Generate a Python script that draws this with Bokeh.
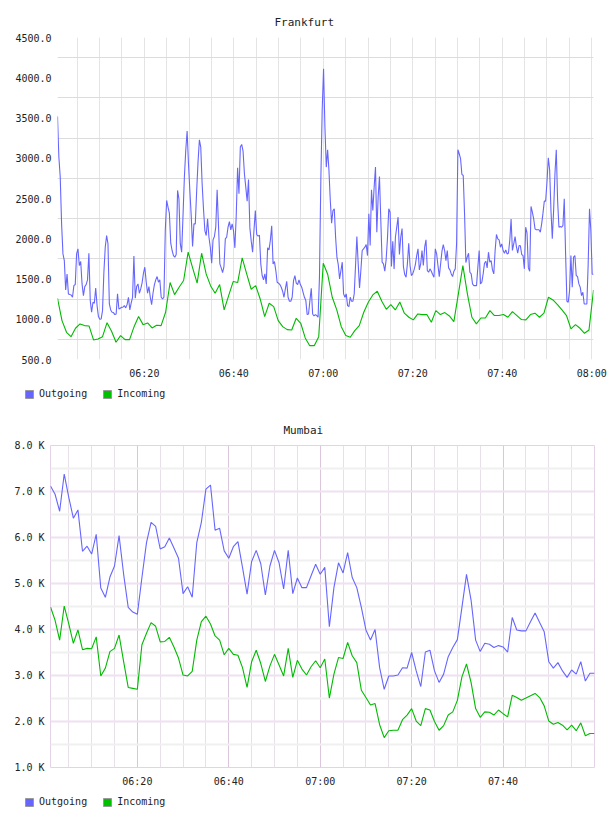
import numpy as np
from bokeh.plotting import figure
from bokeh.layouts import column, row
from bokeh.models import (Range1d, FixedTicker, Legend, LegendItem,
                          CustomJSTickFormatter, PrintfTickFormatter)
from bokeh.embed import file_html
from bokeh.resources import INLINE

DAY = "2015-06-01"

# ---------------- data ----------------
fra_title = "Frankfurt"
fra_start = "06:00:35"
fra_end = "08:00:24"
# outgoing samples: two runs of evenly spaced samples (times)
fra_out_runs = [("06:00:35", "07:00:40", 198), ("07:00:58", "08:00:24", 201)]
fra_outgoing = [
    3520, 3015, 2766, 2185, 1812, 1729, 1364, 1563, 1315, 1307,
    1302, 1273, 1418, 1431, 1812, 1874, 1667, 1717, 1439, 1294,
    1406, 1431, 1489, 1820, 1232, 1087, 1211, 1199, 1389, 1170,
    1033, 1000, 1004, 1107, 1584, 1895, 2040, 1936, 1190, 1116,
    1087, 1083, 1058, 1066, 1315, 1128, 1137, 1149, 1149, 1170,
    1141, 1182, 1273, 1116, 1199, 1273, 1787, 1261, 1406, 1439,
    1323, 1377, 1452, 1572, 1646, 1468, 1323, 1406, 1273, 1182,
    1323, 1427, 1489, 1530, 1460, 1489, 1273, 1252, 1273, 2102,
    2476, 2393, 2318, 1945, 1854, 1791, 1771, 1804, 2600, 2496,
    1936, 1833, 2289, 2766, 3097, 3338, 2932, 2600, 2289, 1903,
    2185, 2185, 2592, 2952, 3230, 3139, 2683, 2372, 2102, 2040,
    2248, 2019, 1895, 1696, 1986, 2028, 2144, 2608, 2164, 1688,
    1638, 1580, 1655, 1999, 2019, 2144, 2214, 2111, 2185, 2102,
    1887, 2285, 2882, 2558, 3139, 3172, 3089, 2807, 2641, 2467,
    2737, 2135, 1970, 1833, 2102, 2351, 2053, 2032, 2044, 1688,
    1543, 1489, 1563, 1439, 1887, 1862, 1978, 2160, 1688, 1717,
    1605, 1460, 1448, 1431, 1398, 1348, 1273, 1377, 1472, 1273,
    1223, 1223, 1273, 1481, 1543, 1448, 1431, 1489, 1431, 1398,
    1335, 1273, 1232, 1058, 1066, 1232, 1385, 1066, 1041, 1058,
    1046, 1025, 1522, 2724, 3595, 4113, 3388, 2890,
    3106, 2849, 2476, 2194, 2351, 2372, 2019, 1771, 1679, 1501,
    1605, 1709, 1315, 1273, 1315, 1170, 1157, 1273, 1223, 1223,
    1315, 1667, 2028, 1688, 1389, 1605, 1854, 1874, 1895, 1928,
    1791, 2310, 1916, 2608, 2351, 2641, 2890, 2082, 2517, 2774,
    2227, 1709, 1688, 1597, 1738, 1999, 2372, 2330, 1655, 1970,
    1626, 2019, 2144, 2268, 1804, 2019, 2127, 1655, 1555, 1522,
    1688, 1945, 1667, 1543, 1563, 1613, 1679, 1791, 1874, 1613,
    1688, 1854, 1667, 1895, 1986, 1605, 1584, 1626, 1597, 1555,
    1522, 1874, 1812, 1667, 1530, 1688, 1845, 1928, 1854, 1729,
    1854, 1638, 1613, 1563, 1530, 1597, 1626, 1936, 3106, 3056,
    2994, 2799, 2786, 2310, 1704, 1771, 1820, 1584, 1563, 1439,
    1418, 1418, 1418, 1646, 1854, 1439, 1460, 1563, 1696, 1721,
    1638, 1833, 1709, 1729, 1613, 1563, 1854, 2053, 1999, 1986,
    1895, 1936, 1854, 1820, 1862, 1812, 1820, 1978, 2244, 1854,
    1936, 2028, 1903, 1820, 1916, 1912, 1804, 1791, 1626, 2144,
    2069, 1638, 1597, 2401, 2330, 2248, 2123, 2111, 2111, 2111,
    2082, 2185, 2318, 2467, 2467, 2704, 3006, 2857, 2351, 1999,
    2351, 2807, 3106, 2476, 2144, 2152, 2144, 2164, 2496, 1820,
    1223, 1211, 1356, 1791, 1398, 1771, 1791, 1543, 1530, 1439,
    1398, 1294, 1335, 1190, 1190, 1190, 1688, 2372, 2102, 1563,
    1555,
]
fra_incoming = [
    1261, 983, 838, 784, 888, 942, 921, 917, 743, 755,
    784, 958, 850, 714, 797, 747, 747, 908, 1033, 933,
    954, 892, 925, 921, 1087, 1456, 1306, 1398, 1481, 1833,
    1638, 1448, 1820, 1563, 1414, 1323, 1431, 1116, 1294, 1468,
    1456, 1762, 1563, 1373, 1418, 1252, 1033, 1199, 1157, 983,
    908, 871, 867, 1012, 950, 768, 672, 672, 784, 1696,
    1555, 1273, 1116, 908, 797, 776, 859, 921, 1087, 1211,
    1302, 1348, 1223, 1124, 1182, 1116, 1215, 1075, 1025, 992,
    1066, 1058, 1058, 962, 1107, 1058, 1083, 1041, 971, 1315,
    1667, 1315, 1025, 942, 1016, 1016, 1107, 1046, 1046, 1058,
    1025, 1095, 1046, 996, 992, 1058, 1075, 1025, 1075, 1273,
    1240, 1182, 1116, 1046, 880, 933, 888, 826, 867, 1364,
]
fra_y_ticks = [500, 1000, 1500, 2000, 2500, 3000, 3500, 4000, 4500]
fra_x_tick_labels = ["06:20", "06:40", "07:00", "07:20", "07:40", "08:00"]

mum_title = "Mumbai"
mum_start = "06:01:00"
mum_end = "08:00:00"
mum_outgoing = [
    7120, 6940, 6570, 7380, 6870, 6420, 6600, 5700, 5810, 5640,
    6070, 4900, 4700, 5140, 5380, 6040, 5200, 4480, 4380, 4330,
    5130, 5890, 6330, 6240, 5750, 5800, 5990, 5770, 5550, 4780,
    4930, 4700, 5890, 6330, 7050, 7140, 6160, 6200, 5710, 5550,
    5800, 5910, 5350, 4770, 5480, 5720, 5430, 4750, 5380, 5720,
    5450, 4880, 5720, 4780, 5120, 4910, 4910, 5170, 5420, 5200,
    5350, 4060, 4910, 5450, 5230, 5670, 5130, 4910, 4480, 3990,
    3770, 4000, 3170, 2700, 2990, 2990, 3010, 3170, 3160, 3500,
    3100, 2760, 3510, 3550, 3100, 2850, 3030, 3410, 3610, 3780,
    4480, 5200, 4640, 3770, 3520, 3700, 3680, 3610, 3650, 3620,
    3510, 4260, 3990, 3970, 3970, 4170, 4360, 4150, 3950, 3300,
    3160, 3280, 3100, 2960, 3120, 3030, 3300, 2880, 3050, 3050,
]
mum_incoming = [
    4490, 4200, 3770, 4510, 4120, 3700, 3990, 3560, 3590, 3580,
    3840, 2990, 3160, 3520, 3590, 3880, 3300, 2740, 2720, 2700,
    3670, 3920, 4150, 4070, 3730, 3740, 3830, 3620, 3380, 3010,
    2990, 3090, 3770, 4170, 4290, 4120, 3860, 3770, 3450, 3590,
    3460, 3440, 3170, 2740, 3300, 3550, 3260, 2870, 3210, 3460,
    3230, 2990, 3590, 2960, 3330, 3140, 3010, 3190, 3320, 3170,
    3360, 2510, 3030, 3390, 3370, 3720, 3430, 3280, 2680, 2520,
    2360, 2390, 1930, 1650, 1800, 1810, 1810, 2040, 2140, 2280,
    2010, 1910, 2280, 2250, 2000, 1810, 1910, 2140, 2210, 2460,
    2970, 3250, 2850, 2280, 2090, 2210, 2200, 2140, 2250, 2170,
    2100, 2570, 2520, 2460, 2510, 2560, 2610, 2520, 2340, 2010,
    1940, 1980, 1920, 1820, 1920, 1800, 1970, 1690, 1740, 1740,
]
mum_y_ticks = [1000, 2000, 3000, 4000, 5000, 6000, 7000, 8000]
mum_x_tick_labels = ["06:20", "06:40", "07:00", "07:20", "07:40"]

series_labels = ["Outgoing", "Incoming"]
OUT_COLOR = "#6666ff"
IN_COLOR = "#00bb00"
MONO = "DejaVu Sans Mono"
MAIN_H = 381
LEG_H = 408 - MAIN_H


def ms(hhmm):
    if hhmm.count(":") == 1:
        hhmm = hhmm + ":00"
    return float(np.datetime64(f"{DAY}T{hhmm}").astype("datetime64[ms]").astype(np.int64))


HHMM = CustomJSTickFormatter(code="""
const d = new Date(tick);
const h = String(d.getUTCHours()).padStart(2, '0');
const m = String(d.getUTCMinutes()).padStart(2, '0');
return h + ':' + m;
""")


def base_fig(title, x0, x1, y0, y1, left, right, title_offset):
    p = figure(width=608, height=MAIN_H, x_axis_type="datetime",
               output_backend="svg", toolbar_location=None,
               x_range=Range1d(x0, x1), y_range=Range1d(y0, y1),
               min_border_left=left, min_border_right=right,
               min_border_top=37, min_border_bottom=22,
               title=title)
    p.title.text_font = MONO
    p.title.text_font_size = "11px"
    p.title.text_font_style = "normal"
    p.title.text_color = "#222222"
    p.title.align = "left"
    p.title.offset = title_offset
    p.title.standoff = 17
    p.background_fill_color = "white"
    p.border_fill_color = "white"
    for ax in (p.xaxis[0], p.yaxis[0]):
        ax.axis_line_color = None
        ax.major_tick_line_color = None
        ax.minor_tick_line_color = None
        ax.major_tick_out = 0
        ax.major_tick_in = 0
        ax.minor_tick_out = 0
        ax.minor_tick_in = 0
        ax.major_label_text_font = MONO
        ax.major_label_text_font_size = "10px"
        ax.major_label_text_color = "#222222"
    p.xaxis[0].major_label_standoff = 8
    p.yaxis[0].major_label_standoff = 6
    p.xaxis[0].formatter = HHMM
    return p


def legend_fig(vx):
    lf = figure(width=608, height=LEG_H, output_backend="svg", toolbar_location=None,
                x_range=Range1d(0, 1), y_range=Range1d(0, 1),
                x_axis_location=None, y_axis_location=None,
                min_border_left=0, min_border_right=0, min_border_top=0, min_border_bottom=0)
    lf.outline_line_color = None
    lf.xgrid.visible = False
    lf.ygrid.visible = False
    # swatch renderers: a single quad each, kept outside the visible range
    r1 = lf.quad(left=[5], right=[6], top=[6], bottom=[5], fill_color=OUT_COLOR, line_color="#999999")
    r2 = lf.quad(left=[5], right=[6], top=[6], bottom=[5], fill_color="#00c000", line_color="#999999")
    leg = Legend(items=[LegendItem(label=series_labels[0], renderers=[r1]),
                        LegendItem(label=series_labels[1], renderers=[r2])],
                 orientation="horizontal", location=(vx, 9),
                 glyph_width=10, glyph_height=10, label_standoff=5, spacing=15,
                 padding=0, margin=0, border_line_color=None, background_fill_alpha=0,
                 label_text_font=MONO, label_text_font_size="10px",
                 label_text_color="#222222", label_height=10)
    lf.add_layout(leg)
    return lf


# ---------------- Frankfurt ----------------
f0, f1 = ms(fra_start), ms(fra_end)
p1 = base_fig(fra_title, f0, f1, fra_y_ticks[0], fra_y_ticks[-1], 57, 15, 217)
p1.outline_line_color = None
p1.xaxis[0].ticker = FixedTicker(ticks=[ms(t) for t in fra_x_tick_labels])
p1.yaxis[0].ticker = FixedTicker(ticks=fra_y_ticks)
p1.yaxis[0].formatter = PrintfTickFormatter(format="%.1f")
p1.xgrid[0].ticker = FixedTicker(ticks=[ms("06:00") + k * 300000 for k in range(1, 25)])
p1.ygrid[0].ticker = FixedTicker(ticks=[v + 250 for v in fra_y_ticks[:-1]])
p1.xgrid[0].grid_line_color = "#e4e4e4"
p1.ygrid[0].grid_line_color = "#dcdcdc"

fo_t = np.concatenate([np.linspace(ms(a), ms(b), n) for a, b, n in fra_out_runs])
fi_t = np.linspace(f0, f1, len(fra_incoming))
p1.line(fo_t, fra_outgoing, line_color=OUT_COLOR, line_width=1.1)
p1.line(fi_t, fra_incoming, line_color=IN_COLOR, line_width=1.1)
l1 = legend_fig(24)

# ---------------- Mumbai ----------------
m0, m1 = ms(mum_start), ms(mum_end)
p2 = base_fig(mum_title, m0, m1, mum_y_ticks[0], mum_y_ticks[-1], 50, 14, 233)
p2.outline_line_color = "#e6d2e6"
p2.xaxis[0].ticker = FixedTicker(ticks=[ms(t) for t in mum_x_tick_labels])
p2.yaxis[0].ticker = FixedTicker(ticks=mum_y_ticks)
p2.yaxis[0].formatter = CustomJSTickFormatter(code="return (tick/1000).toFixed(1) + ' K';")
major_x = [ms(t) for t in mum_x_tick_labels]
minor_x = [ms("06:00") + k * 300000 for k in range(1, 24) if k % 4 != 0]
p2.xgrid[0].ticker = FixedTicker(ticks=major_x, minor_ticks=minor_x)
p2.xgrid[0].grid_line_color = "#dcc6dc"
p2.xgrid[0].minor_grid_line_color = "#e8e0e8"
p2.ygrid[0].ticker = FixedTicker(ticks=mum_y_ticks[1:-1],
                                 minor_ticks=[v + 500 for v in mum_y_ticks[:-1]])
p2.ygrid[0].grid_line_color = "#f0e0f0"
p2.ygrid[0].grid_line_width = 2
p2.ygrid[0].minor_grid_line_color = "#f0f0f0"
p2.ygrid[0].minor_grid_line_width = 2

mt = np.linspace(m0, m1, len(mum_outgoing))
p2.line(mt, mum_outgoing, line_color=OUT_COLOR, line_width=1.1)
p2.line(mt, mum_incoming, line_color=IN_COLOR, line_width=1.1)
l2 = legend_fig(24)

layout = column(row(p1), row(l1), row(p2), row(l2), spacing=0)
open("out.html", "w").write(file_html(layout, INLINE))
